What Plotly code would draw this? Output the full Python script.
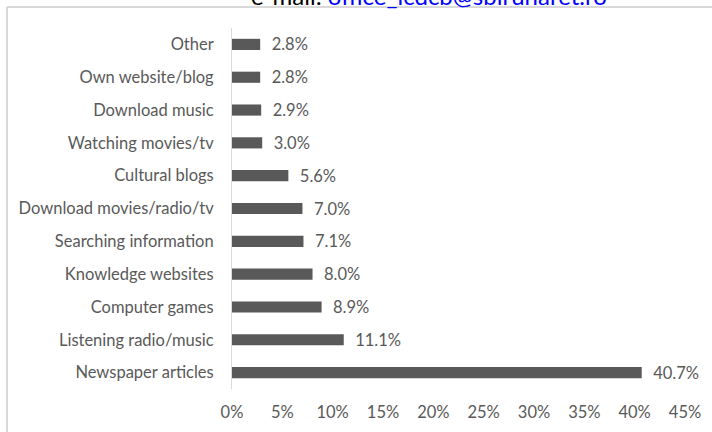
import plotly.graph_objects as go

categories = ["Other", "Own website/blog", "Download music", "Watching movies/tv",
              "Cultural blogs", "Download movies/radio/tv", "Searching information",
              "Knowledge websites", "Computer games", "Listening radio/music",
              "Newspaper articles"]
values = [2.8, 2.8, 2.9, 3.0, 5.6, 7.0, 7.1, 8.0, 8.9, 11.1, 40.7]
tick_vals = [0, 5, 10, 15, 20, 25, 30, 35, 40, 45]
tick_text = ["0%", "5%", "10%", "15%", "20%", "25%", "30%", "35%", "40%", "45%"]

W, H = 712, 432
L, R, T, B = 232, 27, 28, 43
pw, ph = W - L - R, H - T - B

def px(x):
    return (x - L) / pw

def py(y):
    return 1 + (T - y) / ph

FONT = "Lato"
GREY = "#595959"
FS = 16.5

fig = go.Figure(go.Bar(
    x=values, y=categories, orientation="h",
    marker=dict(color=GREY, line=dict(width=0)),
    texttemplate="\u00a0\u00a0%{x:.1f}%", textposition="outside", cliponaxis=False,
    constraintext="none",
    textfont=dict(family=FONT, size=FS, color=GREY),
))

fig.update_layout(
    width=W, height=H,
    margin=dict(l=L, r=R, t=T, b=B, pad=0, autoexpand=False),
    paper_bgcolor="white", plot_bgcolor="white",
    bargap=0.66,
    showlegend=False,
    font=dict(family=FONT, size=FS, color=GREY),
    xaxis=dict(range=[0, 45], tickvals=tick_vals, ticktext=tick_text,
               showgrid=False, zeroline=False, showline=False, automargin=False,
               ticks="outside", ticklen=8, tickcolor="rgba(0,0,0,0)",
               tickfont=dict(family=FONT, size=FS, color=GREY)),
    yaxis=dict(autorange="reversed", showgrid=False, zeroline=False, automargin=False,
               showline=True, linecolor="#d9d9d9", linewidth=1,
               ticks="outside", ticklen=14, tickcolor="rgba(0,0,0,0)",
               tickfont=dict(family=FONT, size=FS, color=GREY)),
    shapes=[
        dict(type="line", xref="paper", yref="paper", x0=px(7), x1=px(720),
             y0=py(7), y1=py(7), line=dict(color="#d9d9d9", width=2)),
        dict(type="line", xref="paper", yref="paper", x0=px(7), x1=px(7),
             y0=py(7), y1=py(440), line=dict(color="#d9d9d9", width=2)),
    ],
    annotations=[
        dict(xref="paper", yref="paper", x=px(249), y=py(12), xanchor="left", yanchor="bottom",
             showarrow=False,
             text="e-mail: <span style='color:#0000ff'>office_icdcb@sbiruharet.ro</span>",
             font=dict(family=FONT, size=24, color="black")),
    ],
)

fig.write_html("out.html", config={"displayModeBar": False},
               post_script="document.body.style.margin='0';document.body.style.overflow='hidden';")
